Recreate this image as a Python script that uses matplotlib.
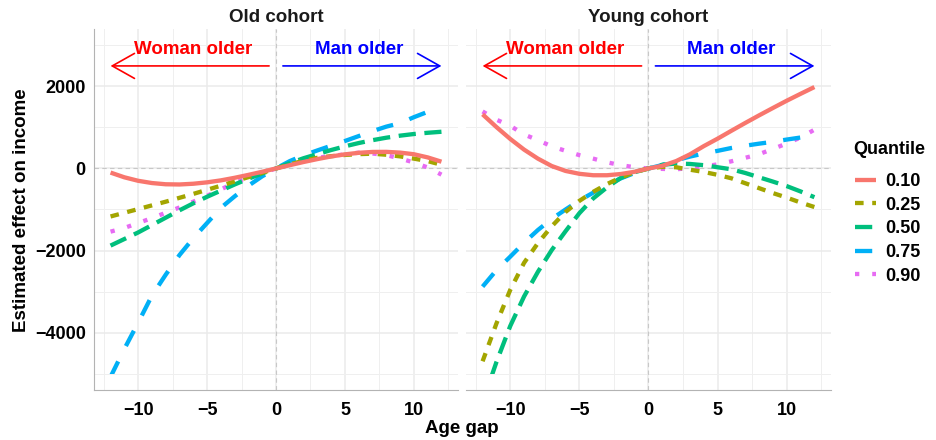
import matplotlib
matplotlib.use('Agg')
import matplotlib.pyplot as plt
from matplotlib.patches import Rectangle
from matplotlib.lines import Line2D

plt.rcParams['font.family'] = ['Liberation Sans', 'DejaVu Sans']
plt.rcParams['font.weight'] = 'bold'

# ---------------- data ----------------
age_gap = list(range(-12, 13))
quantiles = ['0.10', '0.25', '0.50', '0.75', '0.90']
panel_titles = ['Old cohort', 'Young cohort']

old_q10 = [-100, -215, -300, -355, -385, -390, -372, -338, -290, -227, -156, -80, 0,
           80, 158, 229, 293, 344, 382, 403, 405, 387, 347, 270, 165]
old_q25 = [-1170, -1080, -990, -900, -810, -715, -620, -520, -420, -315, -210, -105, 0,
           100, 190, 260, 300, 330, 350, 360, 335, 295, 240, 180, 90]
old_q50 = [-1880, -1720, -1560, -1380, -1200, -1020, -850, -690, -540, -390, -250, -120, 0,
           130, 250, 350, 450, 540, 620, 690, 750, 800, 840, 870, 895]
old_q75 = [-5080, -4400, -3760, -3100, -2590, -2110, -1700, -1330, -960, -680, -420, -190, 0,
           180, 320, 440, 555, 670, 790, 910, 1020, 1105, 1250, 1380, 1500]
old_q90 = [-1540, -1450, -1330, -1210, -1080, -950, -810, -665, -510, -350, -230, -110, 0,
           100, 190, 260, 305, 345, 385, 365, 325, 245, 145, 25, -150]

young_q10 = [1320, 1010, 720, 460, 240, 60, -60, -130, -165, -165, -135, -80, 0,
             65, 180, 345, 545, 727, 920, 1110, 1295, 1475, 1652, 1820, 1985]
young_q25 = [-4700, -3780, -2960, -2300, -1820, -1410, -1060, -790, -570, -380, -220, -90, 0,
             40, 30, -30, -85, -155, -240, -360, -480, -600, -710, -830, -940]
young_q50 = [-5700, -4720, -3840, -3120, -2520, -1990, -1530, -1090, -730, -460, -230, -90, 0,
             90, 120, 110, 80, 30, -20, -110, -215, -320, -430, -560, -700]
young_q75 = [-2880, -2480, -2150, -1810, -1500, -1230, -1000, -780, -590, -400, -240, -110, 0,
             85, 200, 290, 365, 430, 500, 555, 605, 650, 705, 755, 810]
young_q90 = [1390, 1190, 1040, 830, 690, 540, 430, 325, 240, 150, 80, 30, 0,
             -10, -20, 10, 50, 100, 175, 260, 350, 475, 610, 755, 945]

panels = [
    [old_q10, old_q25, old_q50, old_q75, old_q90],
    [young_q10, young_q25, young_q50, young_q75, young_q90],
]

colors = ['#F8766D', '#A3A500', '#00BF7D', '#00B0F6', '#E76BF3']
dashes = [None, (2, 2), (4, 2), (4, 4), (1, 3)]
y_limits = (-5000, 3000)

# ---------------- figure ----------------
W, H = 937, 440
fig = plt.figure(figsize=(W / 100, H / 100), dpi=100)
fig.patch.set_facecolor('white')

ax_rects = [
    (94 / W, 1 - 390 / H, 364 / W, 361 / H),
    (466 / W, 1 - 390 / H, 365 / W, 361 / H),
]

lw = 3.1
handles = []
for p, (rect, series) in enumerate(zip(ax_rects, panels)):
    ax = fig.add_axes(rect)
    ax.set_facecolor('white')
    ax.set_xlim(-13.2, 13.2)
    ax.set_ylim(-5400, 3400)
    ax.set_xticks([-10, -5, 0, 5, 10])
    ax.set_xticks([-12.5, -7.5, -2.5, 2.5, 7.5, 12.5], minor=True)
    ax.set_yticks([-4000, -2000, 0, 2000])
    ax.set_yticks([-5000, -3000, -1000, 1000, 3000], minor=True)
    ax.grid(True, which='major', color='#EBEBEB', lw=1.1, zorder=0)
    ax.grid(True, which='minor', color='#EFEFEF', lw=0.7, zorder=0)
    ax.set_axisbelow(True)
    ax.tick_params(which='both', length=0, labelsize=13, colors='black')
    ax.tick_params(axis='x', pad=8.5)
    ax.tick_params(axis='y', pad=6)
    ax.set_xticklabels(['\u221210', '\u22125', '0', '5', '10'], fontweight='bold')
    for s in ['top', 'right']:
        ax.spines[s].set_visible(False)
    ax.spines['bottom'].set_color('#B3B3B3')
    ax.spines['bottom'].set_linewidth(0.8)
    if p == 0:
        ax.spines['left'].set_color('#B3B3B3')
        ax.spines['left'].set_linewidth(0.8)
        ax.set_yticklabels(['\u22124000', '\u22122000', '0', '2000'], fontweight='bold')
    else:
        ax.spines['left'].set_visible(False)
        ax.set_yticklabels([])

    ax.axvline(0, color='#C8C8C8', lw=0.8, ls=(0, (4, 3)), zorder=1)
    ax.axhline(0, color='#C8C8C8', lw=0.8, ls=(0, (4, 3)), zorder=1)

    clip = Rectangle((-20, y_limits[0]), 40, 20000, transform=ax.transData)
    for q, (vals, c, d) in enumerate(zip(series, colors, dashes)):
        ln, = ax.plot(age_gap, vals, color=c, lw=lw, solid_capstyle='butt',
                      dash_capstyle='butt', zorder=3 + (4 - q) * 0.1)
        if d is not None:
            ln.set_dashes(d)
        ln.set_clip_path(clip)
        if p == 0:
            handles.append(Line2D([], [], color=c, lw=lw, solid_capstyle='butt',
                                  dash_capstyle='butt',
                                  dashes=d if d is not None else (None, None)))

    ax.set_title(panel_titles[p], fontsize=13.5, fontweight='bold', color='#1A1A1A', pad=5)

    # annotations
    ax.text(-6, 2900, 'Woman older', color='#FF0000', fontsize=13.5, fontweight='bold',
            ha='center', va='center')
    ax.text(6, 2900, 'Man older', color='#0000FF', fontsize=13.5, fontweight='bold',
            ha='center', va='center')
    ax.annotate('', xy=(-12, 2500), xytext=(-0.5, 2500),
                arrowprops=dict(arrowstyle='->,head_length=0.8,head_width=0.45',
                                color='#FF0000', lw=1.2, mutation_scale=20,
                                shrinkA=0, shrinkB=0))
    ax.annotate('', xy=(12, 2500), xytext=(0.5, 2500),
                arrowprops=dict(arrowstyle='->,head_length=0.8,head_width=0.45',
                                color='#0000FF', lw=1.2, mutation_scale=20,
                                shrinkA=0, shrinkB=0))

fig.text(22 / W, 1 - 210 / H, 'Estimated effect on income', rotation=90, fontsize=13.5,
         fontweight='bold', ha='center', va='center')
fig.text(462 / W, 1 - 428 / H, 'Age gap', fontsize=13.5, fontweight='bold',
         ha='center', va='center')

# legend (title drawn separately to match the spacing)
fig.text(853 / W, 1 - 150 / H, 'Quantile', fontsize=13, fontweight='bold',
         ha='left', va='center')
leg = fig.legend(handles, quantiles, loc='upper left',
                 bbox_to_anchor=(855 / W, 1 - 173 / H), frameon=False, fontsize=13,
                 handlelength=1.15, labelspacing=0.37, handletextpad=0.55,
                 borderpad=0, borderaxespad=0)
for t in leg.get_texts():
    t.set_fontweight('bold')

fig.savefig('out.png', dpi=100, facecolor='white')
